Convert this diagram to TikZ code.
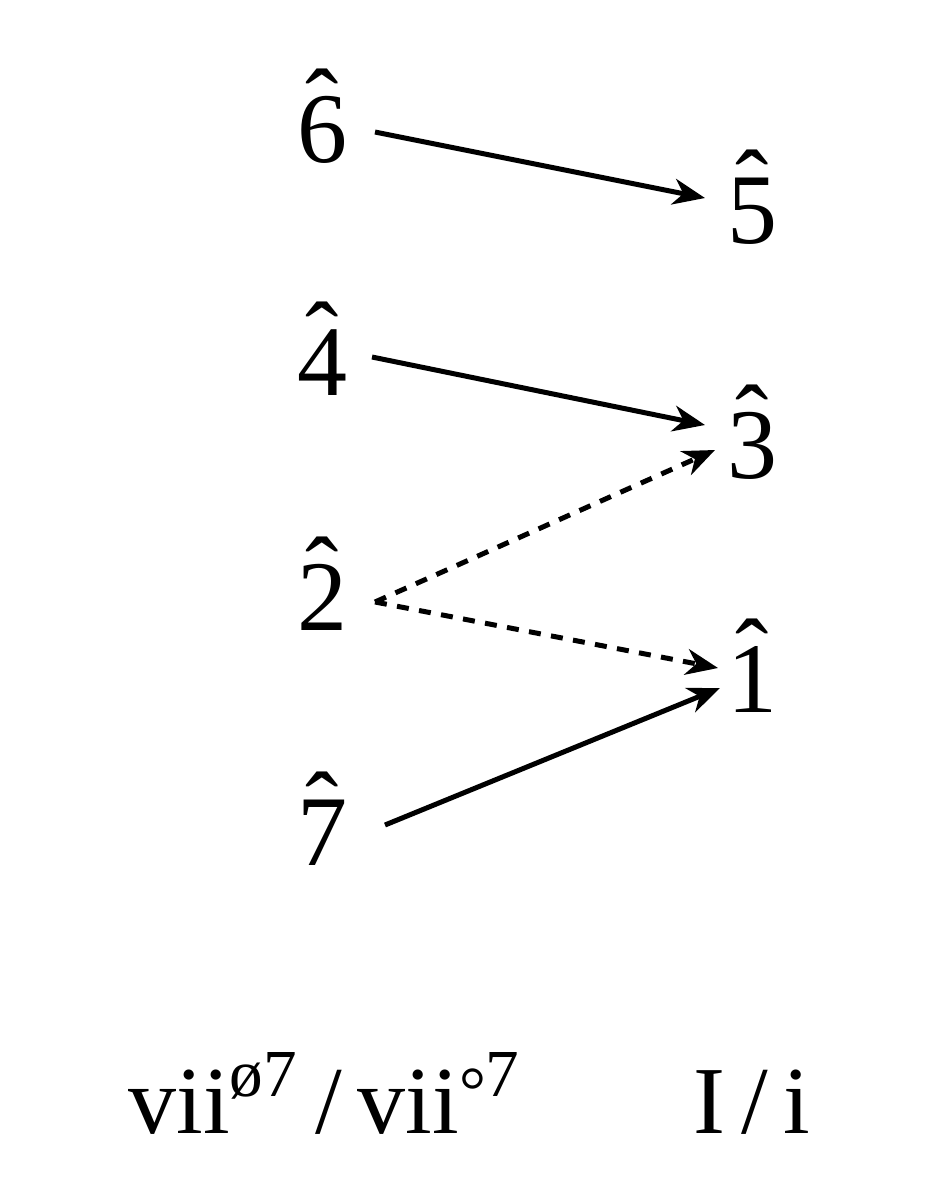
\documentclass[tikz,border=0pt]{standalone}
\usepackage{fontspec}
\setmainfont{Liberation Serif}
\usetikzlibrary{arrows.meta}
\newcommand{\sdeg}[1]{\ooalign{#1\cr\hidewidth\raisebox{0.24em}{\char"02C6}\hidewidth\cr}}
\begin{document}
\begin{tikzpicture}[x=0.25pt,y=-0.25pt,
  deg/.style={anchor=base,inner sep=0pt,font=\fontsize{25}{30}\selectfont},
  lab/.style={anchor=base,inner sep=0pt,font=\fontsize{24}{29}\selectfont},
  conn/.style={line width=1.25pt,-{Stealth[length=8pt,width=6.5pt,inset=2.5pt]}},
  dconn/.style={conn,dash pattern=on 3pt off 2.6pt}]
\useasboundingbox (0,0) rectangle (948,1200);
\node[deg] (n6) at (322,162) {\sdeg{6}};
\node[deg] (n4) at (322,395) {\sdeg{4}};
\node[deg] (n2) at (322,630) {\sdeg{2}};
\node[deg] (n7) at (322,865) {\sdeg{7}};
\node[deg] (n5) at (752,243) {\sdeg{5}};
\node[deg] (n3) at (752,478) {\sdeg{3}};
\node[deg] (n1) at (752,712) {\sdeg{1}};
\node[lab] (l1) at (325,1133) {vii\textsuperscript{ø7}\,/\,vii\textsuperscript{\raisebox{-0.25em}{°}7}};
\node[lab] (l2) at (752,1133) {I\,/\,i};
\draw[conn] ([shift={(53,-30)}]n6.base) -- ([shift={(-47,-45)}]n5.base);
\draw[conn] ([shift={(50,-38)}]n4.base) -- ([shift={(-47,-53)}]n3.base);
\draw[dconn] ([shift={(53,-28)}]n2.base) -- ([shift={(-37,-28)}]n3.base);
\draw[dconn] ([shift={(53,-28)}]n2.base) -- ([shift={(-34,-44)}]n1.base);
\draw[conn] ([shift={(63,-40)}]n7.base) -- ([shift={(-32,-24)}]n1.base);
\end{tikzpicture}
\end{document}
